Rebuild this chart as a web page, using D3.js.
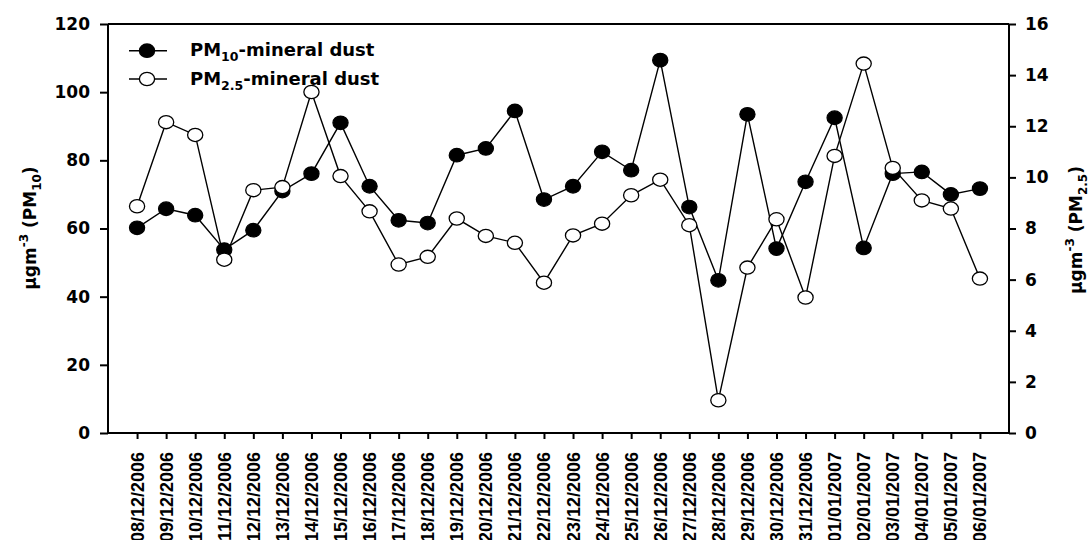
<!DOCTYPE html>
<html lang="en">
  <head>
    <meta charset="utf-8">
    <title>PM mineral dust</title>
    <script src="https://d3js.org/d3.v7.min.js"></script>
    <style>
      body { margin: 0; background: #fff; }
      text { fill: #000; }
    </style>
  </head>
  <body>
    <script type="text/javascript">
      var w = 1089;
      var h = 540;
      var margin = {top: 24, right: 80, bottom: 107, left: 108};

      var dates = ["08/12/2006", "09/12/2006", "10/12/2006", "11/12/2006", "12/12/2006",
                   "13/12/2006", "14/12/2006", "15/12/2006", "16/12/2006", "17/12/2006",
                   "18/12/2006", "19/12/2006", "20/12/2006", "21/12/2006", "22/12/2006",
                   "23/12/2006", "24/12/2006", "25/12/2006", "26/12/2006", "27/12/2006",
                   "28/12/2006", "29/12/2006", "30/12/2006", "31/12/2006", "01/01/2007",
                   "02/01/2007", "03/01/2007", "04/01/2007", "05/01/2007", "06/01/2007"];
      // PM10 mineral dust, left axis
      var pm10 = [60.2, 65.8, 63.9, 53.8, 59.5, 71.0, 76.1, 91.0, 72.4, 62.4,
                  61.6, 81.5, 83.5, 94.5, 68.5, 72.4, 82.5, 77.1, 109.4, 66.3,
                  44.8, 93.5, 54.1, 73.7, 92.5, 54.3, 76.1, 76.6, 70.0, 71.7];
      // PM2.5 mineral dust, right axis
      var pm25 = [8.87, 12.16, 11.66, 6.78, 9.5, 9.62, 13.34, 10.05, 8.67, 6.59,
                  6.89, 8.39, 7.71, 7.44, 5.88, 7.73, 8.19, 9.3, 9.91, 8.13,
                  1.28, 6.47, 8.36, 5.3, 10.84, 14.45, 10.37, 9.1, 8.78, 6.04];
      var leftTicks = [0, 20, 40, 60, 80, 100, 120];
      var rightTicks = [0, 2, 4, 6, 8, 10, 12, 14, 16];

      var innerWidth = w - margin.left - margin.right;
      var innerHeight = h - margin.top - margin.bottom;

      var xScale = d3.scalePoint()
          .domain(dates)
          .range([0, innerWidth])
          .padding(1);
      var yLeft = d3.scaleLinear().domain([0, 120]).range([innerHeight, 0]);
      var yRight = d3.scaleLinear().domain([0, 16]).range([innerHeight, 0]);

      var svg = d3.select("body")
          .append("svg")
          .attr("width", w)
          .attr("height", h);

      var g = svg.append("g")
          .attr("transform", `translate(${margin.left},${margin.top})`);

      var tickFont = "'DejaVu Sans', sans-serif";
      var dateFont = "'Liberation Sans', Arial, sans-serif";

      // left axis
      var leftAxis = d3.axisLeft(yLeft).tickValues(leftTicks).tickSize(8).tickPadding(10);
      var gl = g.append("g").call(leftAxis);
      gl.select(".domain").attr("d", `M0,${innerHeight}V0`).attr("stroke-width", 2);
      gl.selectAll(".tick line").attr("stroke-width", 2);
      gl.selectAll(".tick text")
          .attr("font-family", tickFont).attr("font-weight", "bold").attr("font-size", 17);

      // right axis
      var rightAxis = d3.axisRight(yRight).tickValues(rightTicks).tickSize(7).tickPadding(9);
      var gr = g.append("g").attr("transform", `translate(${innerWidth},0)`).call(rightAxis);
      gr.select(".domain").attr("d", `M0,${innerHeight}V0`).attr("stroke-width", 2);
      gr.selectAll(".tick line").attr("stroke-width", 2);
      gr.selectAll(".tick text")
          .attr("font-family", tickFont).attr("font-weight", "bold").attr("font-size", 17);

      // top frame line
      g.append("line")
          .attr("x1", 0).attr("x2", innerWidth)
          .attr("y1", 0).attr("y2", 0)
          .attr("stroke", "#000").attr("stroke-width", 2);

      // bottom axis
      var xAxis = d3.axisBottom(xScale).tickSize(6).tickFormat("");
      var gx = g.append("g").attr("transform", `translate(0,${innerHeight})`).call(xAxis);
      gx.select(".domain").attr("d", `M0,0H${innerWidth}`).attr("stroke-width", 2);
      gx.selectAll(".tick line").attr("stroke-width", 2);

      g.append("g").selectAll("text")
          .data(dates)
          .enter()
          .append("text")
          .attr("transform", function(d) {
              return `translate(${xScale(d) + 6.5},${innerHeight + 19}) rotate(-90)`;
          })
          .attr("text-anchor", "end")
          .attr("font-family", dateFont)
          .attr("font-weight", "bold")
          .attr("font-size", 18)
          .text(function(d) { return d; });

      // series
      var line10 = d3.line()
          .x(function(d, i) { return xScale(dates[i]); })
          .y(function(d) { return yLeft(d); });
      var line25 = d3.line()
          .x(function(d, i) { return xScale(dates[i]); })
          .y(function(d) { return yRight(d); });

      g.append("path").datum(pm10)
          .attr("d", line10).attr("fill", "none")
          .attr("stroke", "#000").attr("stroke-width", 1.4);
      g.append("g").selectAll("ellipse")
          .data(pm10).enter().append("ellipse")
          .attr("cx", function(d, i) { return xScale(dates[i]); })
          .attr("cy", function(d) { return yLeft(d); })
          .attr("rx", 7.6).attr("ry", 6.8)
          .attr("fill", "#000").attr("stroke", "#000").attr("stroke-width", 1.2);

      g.append("path").datum(pm25)
          .attr("d", line25).attr("fill", "none")
          .attr("stroke", "#000").attr("stroke-width", 1.4);
      g.append("g").selectAll("ellipse")
          .data(pm25).enter().append("ellipse")
          .attr("cx", function(d, i) { return xScale(dates[i]); })
          .attr("cy", function(d) { return yRight(d); })
          .attr("rx", 7.6).attr("ry", 6.6)
          .attr("fill", "#fff").attr("stroke", "#000").attr("stroke-width", 1.3);

      // legend
      var legendRows = [{y: 50.7, fill: "#000", base: "10"}, {y: 79, fill: "#fff", base: "2.5"}];
      legendRows.forEach(function(r) {
          svg.append("line")
              .attr("x1", 129).attr("x2", 167).attr("y1", r.y).attr("y2", r.y)
              .attr("stroke", "#000").attr("stroke-width", 1.4);
          svg.append("ellipse")
              .attr("cx", 147).attr("cy", r.y).attr("rx", 7.6).attr("ry", 6.7)
              .attr("fill", r.fill).attr("stroke", "#000").attr("stroke-width", 1.3);
          var t = svg.append("text")
              .attr("x", 190).attr("y", r.y + 5.5)
              .attr("font-family", tickFont).attr("font-weight", "bold").attr("font-size", 18);
          t.append("tspan").text("PM");
          t.append("tspan").attr("font-size", 12.5).attr("dy", 5).text(r.base);
          t.append("tspan").attr("dy", -5).text("-mineral dust");
      });

      // axis titles
      function axisTitle(x, y, sub) {
          var t = svg.append("text")
              .attr("transform", `translate(${x},${y}) rotate(-90)`)
              .attr("text-anchor", "middle")
              .attr("font-family", tickFont).attr("font-weight", "bold").attr("font-size", 17);
          t.append("tspan").text("\u00b5gm");
          t.append("tspan").attr("font-size", 12).attr("dy", -8).text("-3");
          t.append("tspan").attr("dy", 8).text(" (PM");
          t.append("tspan").attr("font-size", 12).attr("dy", 5).text(sub);
          t.append("tspan").attr("dy", -5).text(")");
      }
      axisTitle(36, 228, "10");
      axisTitle(1082, 230, "2.5");
    </script>
  </body>
</html>
